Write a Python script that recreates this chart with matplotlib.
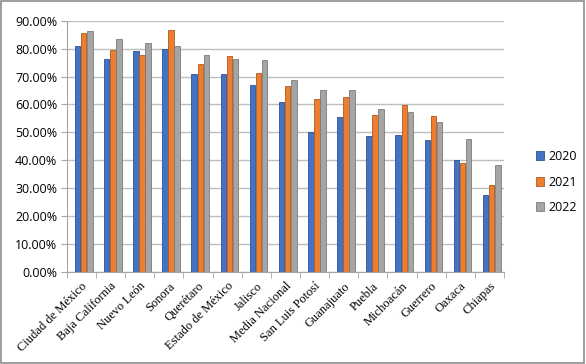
"""Porcentaje por entidad federativa, 2020-2022 (columnas agrupadas)."""

import matplotlib.pyplot as plt
import numpy as np
from matplotlib.patches import Rectangle
from matplotlib.ticker import FuncFormatter, MultipleLocator

states = [
    "Ciudad de México", "Baja California", "Nuevo León", "Sonora", "Querétaro",
    "Estado de México", "Jalisco", "Media Nacional", "San Luis Potosí",
    "Guanajuato", "Puebla", "Michoacán", "Guerrero", "Oaxaca", "Chiapas",
]
years = ["2020", "2021", "2022"]
v2020 = [81.0, 76.2, 79.1, 79.8, 70.8, 70.8, 67.1, 60.9, 50.1, 55.6, 48.8, 48.9, 47.4, 40.2, 27.4]
v2021 = [85.5, 79.4, 77.9, 86.6, 74.4, 77.2, 71.4, 66.6, 62.1, 62.5, 56.1, 59.7, 55.7, 39.2, 31.0]
v2022 = [86.5, 83.5, 81.9, 80.9, 77.8, 76.2, 76.0, 68.8, 65.3, 65.3, 58.4, 57.2, 53.8, 47.7, 38.4]

colors = ["#4472C4", "#ED7D31", "#A5A5A5"]
edges = ["#2F528F", "#AE5A21", "#7B7B7B"]

fig = plt.figure(figsize=(5.86, 3.64), dpi=100)
ax = fig.add_axes([0.114, 0.253, 0.746, 0.69])

x = np.arange(len(states))
w = 0.21
for i, (vals, lab) in enumerate(zip([v2020, v2021, v2022], years)):
    ax.bar(x + 0.08 + (i - 1) * w, np.array(vals) / 100, width=w - 0.02,
           color=colors[i], edgecolor=edges[i], linewidth=0.6, label=lab, zorder=3)

ax.set_xlim(-0.5, len(states) - 0.5)
ax.set_ylim(0, 0.9)
ax.yaxis.set_major_locator(MultipleLocator(0.1))
ax.yaxis.set_major_formatter(FuncFormatter(lambda v, _: f"{v * 100:.2f}%"))
ax.grid(axis="y", color="#BFBFBF", linewidth=1.0, zorder=0)
ax.set_axisbelow(True)

for s in ["top", "right"]:
    ax.spines[s].set_visible(False)
ax.spines["left"].set_color("#A6A6A6")
ax.spines["bottom"].set_color("#A6A6A6")

ax.set_xticks(np.arange(len(states) + 1) - 0.5, minor=True)
ax.set_xticks(x)
ax.set_xticklabels(states, rotation=45, ha="right", rotation_mode="anchor",
                   fontfamily="Liberation Serif", fontsize=9)
ax.tick_params(axis="x", which="major", length=0, pad=6)
ax.tick_params(axis="x", which="minor", length=4, color="#A6A6A6")
ax.tick_params(axis="y", length=4, color="#A6A6A6", labelsize=9, pad=3)
for t in ax.get_yticklabels():
    t.set_fontfamily("Open Sans")

fig.legend(loc="center left", bbox_to_anchor=(0.895, 0.5), frameon=False,
           prop={"family": "Open Sans", "size": 9}, handlelength=0.7,
           handleheight=0.7, handletextpad=0.3, labelspacing=1.0)

fig.patches.append(Rectangle((0.002, 0.003), 0.995, 0.993, transform=fig.transFigure,
                             fill=False, edgecolor="#8C8C8C", linewidth=1.2))

fig.savefig("out.png", dpi=100)
